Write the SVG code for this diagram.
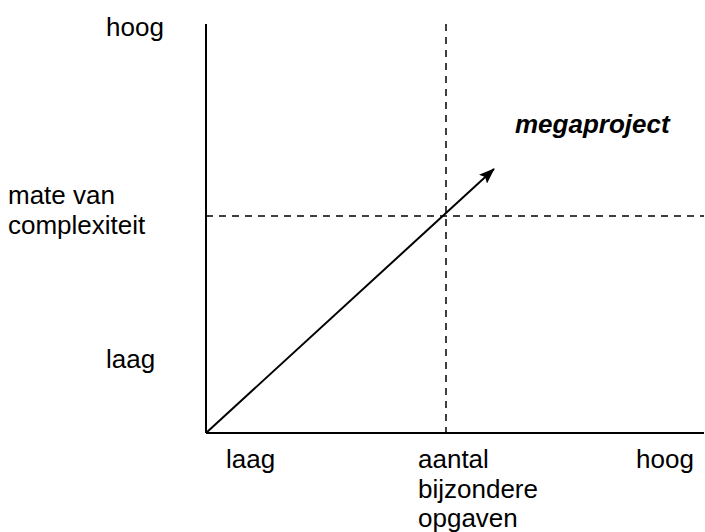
<svg xmlns="http://www.w3.org/2000/svg" width="705" height="532" viewBox="0 0 705 532">
<style>
text{font-family:"Liberation Sans",Arial,sans-serif;font-size:26px;fill:#000}
.axis{stroke:#000;stroke-width:2;fill:none}
.dash{stroke:#000;stroke-width:1.5;stroke-dasharray:7,6;fill:none}
</style>
<defs>
<marker id="ah" viewBox="0 0 16 12" refX="15" refY="6" markerWidth="16" markerHeight="12" orient="auto" markerUnits="userSpaceOnUse">
<path d="M0,0 L16,6 L0,12 L3,6 z" fill="#000"/>
</marker>
</defs>
<rect width="705" height="532" fill="#fff"/>
<g id="connectors">
<line class="axis" x1="206" y1="24" x2="206" y2="433"/>
<line class="axis" x1="206" y1="433" x2="704" y2="433"/>
<line class="dash" x1="446" y1="24" x2="446" y2="433"/>
<line class="dash" x1="206" y1="216" x2="704" y2="216"/>
<line class="axis" x1="206" y1="433" x2="494" y2="169" marker-end="url(#ah)"/>
</g>
<g id="labels">
<text x="106" y="36">hoog</text>
<text x="8" y="204">mate van</text>
<text x="8" y="234">complexiteit</text>
<text x="106" y="368">laag</text>
<text x="226" y="468">laag</text>
<text x="418" y="468">aantal</text>
<text x="418" y="498">bijzondere</text>
<text x="418" y="527">opgaven</text>
<text x="636" y="468">hoog</text>
<text x="515" y="133" font-weight="bold" font-style="italic">megaproject</text>
</g>
</svg>
